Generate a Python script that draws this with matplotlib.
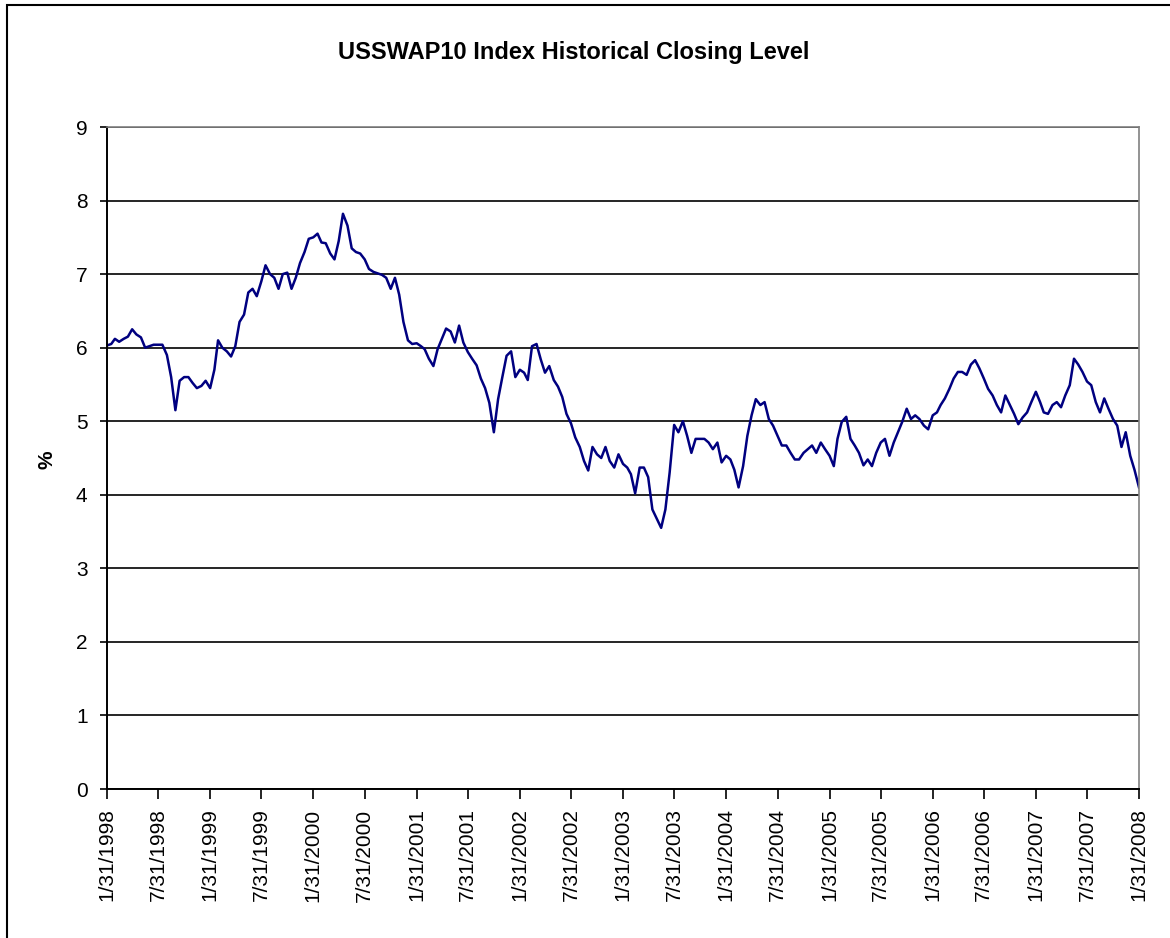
import numpy as np
import pandas as pd
import matplotlib
matplotlib.use('Agg')
import matplotlib.pyplot as plt
from matplotlib.patches import Rectangle

plt.rcParams['font.family'] = ['Liberation Sans', 'DejaVu Sans']

# semi-monthly closing levels (15th / month end)
rate_1998 = [6.03, 6.05, 6.12, 6.08, 6.12, 6.15, 6.25, 6.18, 6.14, 6.0, 6.02, 6.04,
             6.04, 6.04, 5.9, 5.6, 5.15, 5.55, 5.6, 5.6, 5.52, 5.45, 5.48, 5.55]
rate_1999 = [5.45, 5.7, 6.1, 6.0, 5.95, 5.88, 6.02, 6.35, 6.45, 6.75, 6.8, 6.7,
             6.9, 7.12, 7.0, 6.95, 6.8, 7.0, 7.02, 6.8, 6.95, 7.15, 7.3, 7.48]
rate_2000 = [7.5, 7.55, 7.43, 7.42, 7.28, 7.2, 7.45, 7.82, 7.66, 7.35, 7.3, 7.28,
             7.2, 7.07, 7.03, 7.01, 6.99, 6.95, 6.8, 6.95, 6.72, 6.35, 6.1, 6.05]
rate_2001 = [6.06, 6.02, 5.98, 5.85, 5.75, 5.98, 6.12, 6.26, 6.22, 6.07, 6.3, 6.07,
             5.94, 5.85, 5.76, 5.58, 5.45, 5.25, 4.85, 5.3, 5.6, 5.89, 5.95, 5.6]
rate_2002 = [5.7, 5.66, 5.56, 6.02, 6.05, 5.84, 5.66, 5.75, 5.56, 5.47, 5.33, 5.1,
             4.97, 4.78, 4.65, 4.46, 4.33, 4.65, 4.55, 4.5, 4.65, 4.46, 4.37, 4.55]
rate_2003 = [4.42, 4.37, 4.28, 4.02, 4.37, 4.37, 4.24, 3.8, 3.67, 3.55, 3.8, 4.3,
             4.95, 4.85, 5.0, 4.8, 4.57, 4.76, 4.76, 4.76, 4.71, 4.62, 4.71, 4.44]
rate_2004 = [4.53, 4.48, 4.34, 4.1, 4.39, 4.8, 5.08, 5.3, 5.22, 5.26, 5.03, 4.94,
             4.8, 4.67, 4.67, 4.57, 4.48, 4.48, 4.57, 4.62, 4.67, 4.57, 4.71, 4.62]
rate_2005 = [4.53, 4.39, 4.76, 4.99, 5.06, 4.76, 4.67, 4.57, 4.4, 4.48, 4.39, 4.57,
             4.71, 4.76, 4.53, 4.71, 4.85, 4.99, 5.17, 5.03, 5.08, 5.03, 4.94, 4.89]
rate_2006 = [5.08, 5.12, 5.22, 5.31, 5.44, 5.58, 5.67, 5.67, 5.63, 5.77, 5.83, 5.72,
             5.58, 5.44, 5.35, 5.22, 5.12, 5.35, 5.22, 5.1, 4.96, 5.05, 5.12, 5.26]
rate_2007 = [5.4, 5.26, 5.12, 5.1, 5.22, 5.26, 5.19, 5.35, 5.49, 5.85, 5.77, 5.67,
             5.54, 5.49, 5.26, 5.12, 5.31, 5.17, 5.03, 4.94, 4.65, 4.85, 4.53, 4.34]
rate_last = [4.1]

rates = (rate_1998 + rate_1999 + rate_2000 + rate_2001 + rate_2002 + rate_2003
         + rate_2004 + rate_2005 + rate_2006 + rate_2007 + rate_last)
dates = pd.date_range('1998-01-31', '2008-01-31', freq='SME')

tick_dates = pd.date_range('1998-01-31', '2008-01-31', freq='6ME')
tick_labels = [f'{d.month}/{d.day}/{d.year}' for d in tick_dates]

W, H = 1170, 938
fig = plt.figure(figsize=(W / 100, H / 100), dpi=100)
ax = fig.add_axes([107 / W, 1 - 789 / H, (1139 - 107) / W, (789 - 127) / H])

ax.plot(dates, rates, color='#000080', lw=1.8)

ax.set_ylim(0, 9)
ax.set_yticks(range(0, 10))
ax.set_xlim(tick_dates[0], tick_dates[-1])
ax.set_xticks(tick_dates)
ax.set_xticklabels(tick_labels, rotation=90)
ax.yaxis.grid(True, color='black', lw=1.2)
ax.set_axisbelow(True)

for side in ['top', 'right']:
    ax.spines[side].set_color('#808080')
    ax.spines[side].set_linewidth(1.2)
for side in ['left', 'bottom']:
    ax.spines[side].set_color('black')
    ax.spines[side].set_linewidth(1.4)

ax.tick_params(axis='y', length=5, width=1.2, pad=9, labelsize=15)
ax.tick_params(axis='x', length=7, width=1.2, pad=7, labelsize=15)

fig.text(574 / W, 1 - 52 / H, 'USSWAP10 Index Historical Closing Level',
         ha='center', va='center', fontsize=17, fontweight='bold')
fig.text(47 / W, 1 - 460 / H, '%', rotation=90, ha='center', va='center',
         fontsize=15, fontweight='bold')

fig.add_artist(Rectangle((7 / W, -0.1), 1.2, 1.1 - 5 / H, transform=fig.transFigure,
                         fill=False, edgecolor='black', lw=1.5))

fig.savefig('out.png', dpi=100)
